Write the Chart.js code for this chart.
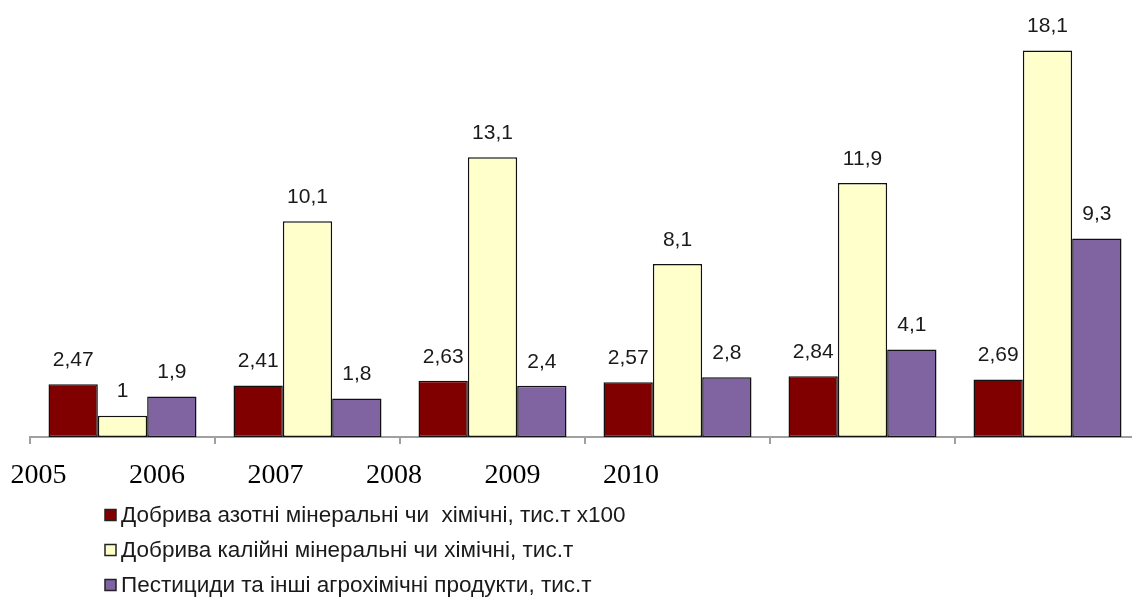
<!DOCTYPE html>
<html><head><meta charset="utf-8">
<script src="https://cdn.jsdelivr.net/npm/chart.js@4.4.1/dist/chart.umd.min.js"></script>
<style>html,body{margin:0;padding:0;overflow:hidden;background:#fff}#wrap{position:relative;width:1142px;height:600px}</style>
</head><body><div id="wrap"><canvas id="c"></canvas></div>
<script>
const years = ['2005', '2006', '2007', '2008', '2009', '2010'];
const seriesNames = [
  'Добрива азотні мінеральні чи  хімічні, тис.т х100',
  'Добрива калійні мінеральні чи хімічні, тис.т',
  'Пестициди та інші агрохімічні продукти, тис.т'
];
const nitrogen = [2.47, 2.41, 2.63, 2.57, 2.84, 2.69];
const potassium = [1, 10.1, 13.1, 8.1, 11.9, 18.1];
const pesticides = [1.9, 1.8, 2.4, 2.8, 4.1, 9.3];
const colors = ['#800000', '#ffffcc', '#8064a2'];

const valueLabels = {
  id: 'valueLabels',
  afterDatasetsDraw(chart) {
    const ctx = chart.ctx;
    ctx.save();
    ctx.font = '21px "Liberation Sans", Arial, sans-serif';
    ctx.fillStyle = '#1a1a1a';
    ctx.textAlign = 'center';
    ctx.textBaseline = 'middle';
    chart.data.datasets.forEach((ds, di) => {
      const meta = chart.getDatasetMeta(di);
      meta.data.forEach((el, i) => {
        ctx.fillText(String(ds.data[i]).replace('.', ','), el.x, el.y - 24);
      });
    });
    ctx.restore();
  }
};

const stackLegend = {
  id: 'stackLegend',
  afterDraw(chart) {
    const ctx = chart.ctx;
    ctx.save();
    ctx.font = '22.5px "Liberation Sans", Arial, sans-serif';
    ctx.textBaseline = 'middle';
    chart.data.datasets.forEach((ds, i) => {
      const y = chart.chartArea.bottom + 78 + i * 35;
      ctx.fillStyle = ds.backgroundColor;
      ctx.fillRect(105, y - 5.5, 11, 11);
      ctx.strokeStyle = '#222';
      ctx.lineWidth = 1.5;
      ctx.strokeRect(105, y - 5.5, 11, 11);
      ctx.fillStyle = '#1a1a1a';
      ctx.fillText(ds.label, 121, y + 1);
    });
    ctx.restore();
  }
};

new Chart(document.getElementById('c'), {
  type: 'bar',
  data: {
    labels: years,
    datasets: [
      { label: seriesNames[0], data: nitrogen, backgroundColor: colors[0] },
      { label: seriesNames[1], data: potassium, backgroundColor: colors[1] },
      { label: seriesNames[2], data: pesticides, backgroundColor: colors[2] }
    ].map(d => Object.assign(d, { borderColor: '#111', borderWidth: 1.5, borderSkipped: false, categoryPercentage: 0.8, barPercentage: 1 }))
  },
  options: {
    responsive: true,
    maintainAspectRatio: false,
    animation: false,
    layout: { padding: { top: 10, left: 30, right: 2, bottom: 111 } },
    plugins: { legend: { display: false }, tooltip: { enabled: false } },
    scales: {
      y: { display: false, min: 0, max: 20 },
      x: {
        grid: { display: true, drawOnChartArea: false, drawTicks: true, tickLength: 7, color: '#a0a0a0', lineWidth: 2, offset: true },
        border: { color: '#a0a0a0', width: 2 },
        ticks: { display: false },
        afterFit: s => { s.height = 8; s.paddingLeft = 0; s.paddingRight = 0; }
      },
      yr: {
        type: 'linear', position: 'bottom', offset: false, min: -0.0717, max: 9.295,
        grid: { display: false, drawTicks: false, offset: false },
        border: { display: false },
        afterBuildTicks: s => { s.ticks = years.map((_, i) => ({ value: i })); },
        ticks: {
          callback: v => years[v] !== undefined ? years[v] : '',
          font: { family: '"Liberation Serif", "Times New Roman", serif', size: 28 },
          color: '#000', maxRotation: 0, autoSkip: false, padding: 13.5
        },
        afterFit: s => { s.height = 44; s.paddingLeft = 0; s.paddingRight = 0; }
      }
    }
  },
  plugins: [valueLabels, stackLegend]
});
</script>
</body></html>
